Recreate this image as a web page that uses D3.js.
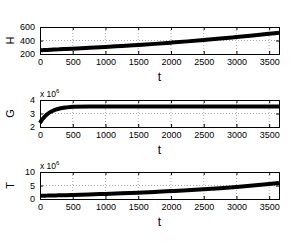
<!DOCTYPE html>
<html lang="en">
<head>
    <meta charset="UTF-8">
    <script src="https://d3js.org/d3.v7.min.js"></script>
    <title>H, G, T over t</title>
    <style>
        body { margin: 0; background: #fff; }
        svg { display: block; font-family: "Liberation Sans", Arial, sans-serif; }
    </style>
</head>
<body>
    <svg width="308" height="242"></svg>
    <script>
        // values
        const tValues = [0, 25, 50, 100, 150, 200, 250, 300, 400, 500, 750, 1000, 1250, 1500, 1750, 2000, 2250, 2500, 2750, 3000, 3250, 3500, 3650];
        const hValues = [255, 256, 258, 260, 262, 265, 267, 270, 274, 279, 292, 305, 319, 334, 350, 368, 387, 407, 428, 451, 475, 500, 515];
        const gValues = [2.3, 2.5, 2.65, 2.9, 3.08, 3.2, 3.3, 3.37, 3.45, 3.5, 3.52, 3.52, 3.52, 3.52, 3.52, 3.52, 3.52, 3.52, 3.51, 3.51, 3.51, 3.51, 3.51];
        const tSeries = [1.2, 1.21, 1.22, 1.25, 1.28, 1.31, 1.34, 1.37, 1.43, 1.5, 1.68, 1.88, 2.1, 2.35, 2.62, 2.92, 3.25, 3.62, 4.02, 4.47, 4.97, 5.55, 5.95];

        const xTicks = [0, 500, 1000, 1500, 2000, 2500, 3000, 3500];
        const hTicks = [200, 400, 600];
        const gTicks = [2, 3, 4];
        const tTicks = [0, 5, 10];

        const panels = [
            { label: 'H', values: hValues, ticks: hTicks, domain: [200, 600], exp: false, top: 27 },
            { label: 'G', values: gValues, ticks: gTicks, domain: [2, 4], exp: true, top: 100 },
            { label: 'T', values: tSeries, ticks: tTicks, domain: [0, 10], exp: true, top: 172 }
        ];

        const left = 40, right = 279, ph = 27;
        const svg = d3.select('svg');

        const x = d3.scaleLinear().domain([0, 3650]).range([left, right]);

        panels.forEach(p => {
            const y = d3.scaleLinear().domain(p.domain).range([p.top + ph, p.top]);
            const g = svg.append('g');

            // grid
            g.selectAll('.gx').data(xTicks.slice(1)).enter().append('line')
                .attr('x1', d => x(d)).attr('x2', d => x(d))
                .attr('y1', p.top).attr('y2', p.top + ph)
                .attr('stroke', '#888').attr('stroke-width', 0.7).attr('stroke-dasharray', '1,2');
            g.selectAll('.gy').data(p.ticks.slice(1, -1)).enter().append('line')
                .attr('x1', left).attr('x2', right)
                .attr('y1', d => y(d)).attr('y2', d => y(d))
                .attr('stroke', '#888').attr('stroke-width', 0.7).attr('stroke-dasharray', '1,2');

            // data line
            const line = d3.line()
                .x((d, i) => x(tValues[i]))
                .y(d => y(d))
                .curve(d3.curveMonotoneX);
            g.append('path')
                .datum(p.values)
                .attr('d', line)
                .attr('fill', 'none')
                .attr('stroke', '#000')
                .attr('stroke-width', 4);

            // axes
            const fmt = d3.format('d');
            const xAxis = d3.axisBottom(x).tickValues(xTicks).tickSize(-3).tickPadding(5).tickFormat(fmt);
            const xTop = d3.axisTop(x).tickValues(xTicks).tickSize(-3).tickFormat('');
            const yAxis = d3.axisLeft(y).tickValues(p.ticks).tickSize(-3).tickPadding(5).tickFormat(fmt);
            const yRight = d3.axisRight(y).tickValues(p.ticks).tickSize(-3).tickFormat('');

            g.append('g').attr('transform', `translate(0,${p.top + ph})`).call(xAxis);
            g.append('g').attr('transform', `translate(0,${p.top})`).call(xTop);
            g.append('g').attr('transform', `translate(${left},0)`).call(yAxis);
            g.append('g').attr('transform', `translate(${right},0)`).call(yRight);

            g.selectAll('.domain').attr('stroke', '#000').attr('stroke-width', 1);
            g.selectAll('.tick line').attr('stroke', '#000');
            g.selectAll('.tick text').attr('font-size', 9).attr('fill', '#000')
                .attr('font-family', '"Liberation Sans", Arial, sans-serif');

            // labels
            g.append('text')
                .attr('x', (left + right) / 2).attr('y', p.top + ph + 27)
                .attr('text-anchor', 'middle').attr('font-size', 12).text('t');
            g.append('text')
                .attr('transform', `translate(14,${p.top + ph / 2}) rotate(-90)`)
                .attr('text-anchor', 'middle').attr('font-size', 11).text(p.label);

            if (p.exp) {
                const e = g.append('text').attr('x', left).attr('y', p.top - 3).attr('font-size', 8.5);
                e.append('tspan').text('x 10');
                e.append('tspan').attr('dy', -4).attr('font-size', 6).text('6');
            }
        });
    </script>
</body>
</html>
